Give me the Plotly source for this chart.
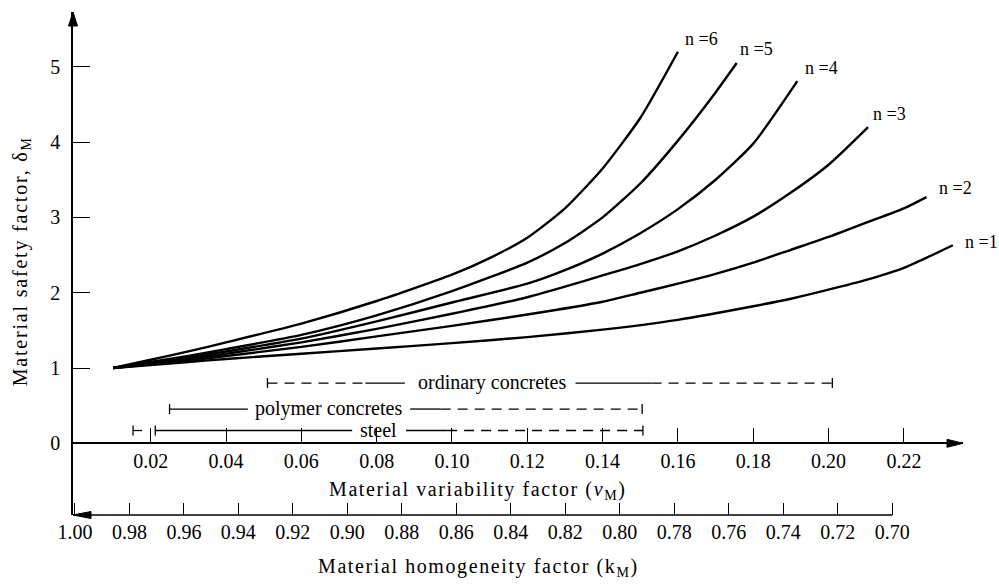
import plotly.graph_objects as go

# ---- safety factor curves: material variability factor (nu_M) vs safety factor (delta_M)
n_values = [1, 2, 3, 4, 5, 6]

nu_n1 = [0.01, 0.02, 0.03, 0.04, 0.06, 0.08, 0.10, 0.12, 0.14, 0.16, 0.18, 0.19, 0.20, 0.21, 0.22, 0.233]
delta_n1 = [1.00, 1.04, 1.08, 1.12, 1.19, 1.26, 1.33, 1.41, 1.51, 1.64, 1.82, 1.92, 2.04, 2.17, 2.33, 2.63]

nu_n2 = [0.01, 0.02, 0.03, 0.04, 0.06, 0.08, 0.10, 0.12, 0.14, 0.15, 0.16, 0.17, 0.18, 0.19, 0.20, 0.21, 0.22, 0.226]
delta_n2 = [1.00, 1.05, 1.10, 1.16, 1.28, 1.42, 1.56, 1.71, 1.88, 2.00, 2.12, 2.25, 2.40, 2.57, 2.74, 2.93, 3.12, 3.27]

nu_n3 = [0.01, 0.02, 0.03, 0.04, 0.06, 0.08, 0.10, 0.12, 0.13, 0.14, 0.15, 0.16, 0.17, 0.18, 0.19, 0.20, 0.2105]
delta_n3 = [1.00, 1.06, 1.12, 1.19, 1.34, 1.52, 1.72, 1.94, 2.08, 2.23, 2.38, 2.55, 2.76, 3.01, 3.33, 3.70, 4.20]

nu_n4 = [0.01, 0.02, 0.03, 0.04, 0.06, 0.08, 0.10, 0.12, 0.13, 0.14, 0.15, 0.16, 0.17, 0.18, 0.1917]
delta_n4 = [1.00, 1.07, 1.14, 1.22, 1.39, 1.62, 1.87, 2.12, 2.30, 2.52, 2.79, 3.11, 3.50, 3.98, 4.81]

nu_n5 = [0.01, 0.02, 0.03, 0.04, 0.06, 0.08, 0.10, 0.12, 0.13, 0.14, 0.15, 0.16, 0.17, 0.1756]
delta_n5 = [1.00, 1.08, 1.16, 1.25, 1.44, 1.70, 2.02, 2.40, 2.66, 3.00, 3.45, 4.02, 4.66, 5.05]

nu_n6 = [0.01, 0.02, 0.03, 0.04, 0.06, 0.08, 0.10, 0.11, 0.12, 0.13, 0.14, 0.15, 0.16]
delta_n6 = [1.00, 1.11, 1.22, 1.34, 1.59, 1.89, 2.24, 2.46, 2.73, 3.12, 3.65, 4.32, 5.20]

# ---- axis ticks
delta_ticks = [0, 1, 2, 3, 4, 5]
nu_ticks = [0.02, 0.04, 0.06, 0.08, 0.10, 0.12, 0.14, 0.16, 0.18, 0.20, 0.22]
k_ticks = [1.00, 0.98, 0.96, 0.94, 0.92, 0.90, 0.88, 0.86, 0.84, 0.82, 0.80,
           0.78, 0.76, 0.74, 0.72, 0.70]

# ---- typical variability ranges of materials
ordinary_level = 0.80
ordinary_solid = [[0.077, 0.0875], [0.1328, 0.153]]
ordinary_dashed = [[0.051, 0.077], [0.153, 0.201]]
ordinary_label_at = 0.1105

polymer_level = 0.455
polymer_solid = [[0.025, 0.0458], [0.0889, 0.097]]
polymer_dashed = [[0.097, 0.1505]]
polymer_label_at = 0.0673

steel_level = 0.17
steel_solid = [[0.0212, 0.0735], [0.0878, 0.0987]]
steel_dashed = [[0.0987, 0.1507]]
steel_label_at = 0.0805
steel_stub = [0.0153, 0.0177]

# ---- visible axis extents
nu_range = [-0.00064, 0.2357]
delta_range = [-0.952, 5.728]
k_range = [1.0007, 0.674]

FONT = "Liberation Serif"
INK = "black"

fig = go.Figure()

curves = [(nu_n1, delta_n1), (nu_n2, delta_n2), (nu_n3, delta_n3),
          (nu_n4, delta_n4), (nu_n5, delta_n5), (nu_n6, delta_n6)]
label_shift = [(10, 3), (11, 9), (3, 13), (6, 13), (1, 14), (5, 13)]

annotations = []
for n, (xs, ys), (dx, dy) in zip(n_values, curves, label_shift):
    fig.add_trace(go.Scatter(
        x=xs, y=ys, mode="lines",
        line=dict(color=INK, width=2.4, shape="spline", smoothing=0.6),
        showlegend=False, hoverinfo="skip"))
    annotations.append(dict(
        x=xs[-1], y=ys[-1], xref="x", yref="y", text=f"n ={n}",
        showarrow=False, xanchor="left", yanchor="middle",
        xshift=dx, yshift=dy, font=dict(family=FONT, size=18, color=INK)))


def add_segments(segs, level, dash):
    for a, b in segs:
        fig.add_trace(go.Scatter(
            x=[a, b], y=[level, level], mode="lines",
            line=dict(color=INK, width=1.3, dash=dash),
            showlegend=False, hoverinfo="skip"))


def add_bar_end(x, level, half=0.066):
    fig.add_trace(go.Scatter(
        x=[x, x], y=[level - half, level + half], mode="lines",
        line=dict(color=INK, width=1.3),
        showlegend=False, hoverinfo="skip"))


bars = [
    ("ordinary concretes", ordinary_level, ordinary_solid, ordinary_dashed, ordinary_label_at),
    ("polymer concretes", polymer_level, polymer_solid, polymer_dashed, polymer_label_at),
    ("steel", steel_level, steel_solid, steel_dashed, steel_label_at),
]
for name, level, solid, dashed, label_at in bars:
    add_segments(solid, level, "solid")
    add_segments(dashed, level, "10px,7px")
    all_pts = [p for seg in solid + dashed for p in seg]
    add_bar_end(min(all_pts), level)
    add_bar_end(max(all_pts), level)
    annotations.append(dict(
        x=label_at, y=level, xref="x", yref="y", text=name, showarrow=False,
        xanchor="center", yanchor="middle", yshift=1,
        font=dict(family=FONT, size=20, color=INK)))

# short lower-bound marker for steel
add_segments([steel_stub], steel_level, "solid")
add_bar_end(steel_stub[0], steel_level)

# carrier trace for the homogeneity-factor axis
fig.add_trace(go.Scatter(
    x=[k_ticks[0], k_ticks[-1]], y=[delta_range[0], delta_range[0]],
    xaxis="x2", mode="lines", line=dict(width=0, color="rgba(0,0,0,0)"),
    showlegend=False, hoverinfo="skip"))

# axis titles
annotations += [
    dict(x=0.455, y=0.0497, xref="paper", yref="paper",
         text='<span style="letter-spacing:1.6px">Material variability factor (<i>ν</i><sub>M</sub>)</span>',
         showarrow=False, xanchor="center", yanchor="middle",
         font=dict(family=FONT, size=20, color=INK)),
    dict(x=0.456, y=-0.105, xref="paper", yref="paper",
         text='<span style="letter-spacing:1.6px">Material homogeneity factor (k<sub>M</sub>)</span>',
         showarrow=False, xanchor="center", yanchor="middle",
         font=dict(family=FONT, size=20, color=INK)),
    dict(x=-0.057, y=0.505, xref="paper", yref="paper", textangle=-90,
         text='<span style="letter-spacing:1.8px">Material safety factor, δ<sub>M</sub></span>',
         showarrow=False, xanchor="center", yanchor="middle",
         font=dict(family=FONT, size=20, color=INK)),
]

shapes = [
    # homogeneity axis line, from the left edge to the last tick
    dict(type="line", xref="x2", yref="paper", x0=k_range[0], x1=k_ticks[-1],
         y0=0, y1=0, line=dict(color=INK, width=1.5)),
    # arrowheads
    dict(type="path", xref="paper", yref="paper", xsizemode="pixel", ysizemode="pixel",
         xanchor=0, yanchor=1, path="M 0 0 L -4.5 -14 L 4.5 -14 Z",
         fillcolor=INK, line=dict(color=INK, width=1)),
    dict(type="path", xref="paper", yref="y", xsizemode="pixel", ysizemode="pixel",
         xanchor=1, yanchor=0, path="M 0 0 L -16 4 L -16 -4 Z",
         fillcolor=INK, line=dict(color=INK, width=1)),
    dict(type="path", xref="paper", yref="paper", xsizemode="pixel", ysizemode="pixel",
         xanchor=0, yanchor=0, path="M 0 0 L 18 3.5 L 18 -3.5 Z",
         fillcolor=INK, line=dict(color=INK, width=1)),
]

tick_font = dict(family=FONT, size=20, color=INK)
zero_pos = (0 - delta_range[0]) / (delta_range[1] - delta_range[0])

fig.update_layout(
    width=999, height=584, autosize=False,
    margin=dict(l=73, r=36, t=12, b=69, pad=0),
    paper_bgcolor="white", plot_bgcolor="white",
    showlegend=False,
    xaxis=dict(range=nu_range, anchor="free", position=zero_pos,
               tickvals=nu_ticks, ticktext=[f"{v:.2f}" for v in nu_ticks],
               ticks="inside", ticklen=15, tickwidth=1.2, tickcolor=INK,
               ticklabelstandoff=0,
               showline=True, linecolor=INK, linewidth=1.5,
               showgrid=False, zeroline=False, tickfont=tick_font),
    xaxis2=dict(range=k_range, overlaying="x", anchor="free", position=0, side="bottom",
                tickvals=k_ticks, ticktext=[f"{v:.2f}" for v in k_ticks],
                ticks="inside", ticklen=12, tickwidth=1.2, tickcolor=INK,
                ticklabelstandoff=3,
                showline=False, showgrid=False, zeroline=False, tickfont=tick_font),
    yaxis=dict(range=delta_range, tickvals=delta_ticks,
               ticks="inside", ticklen=17, tickwidth=1.2, tickcolor=INK,
               ticklabelstandoff=7,
               showline=True, linecolor=INK, linewidth=1.5,
               showgrid=False, zeroline=False, tickfont=tick_font),
    annotations=annotations,
    shapes=shapes,
)

fig.write_html("out.html")
